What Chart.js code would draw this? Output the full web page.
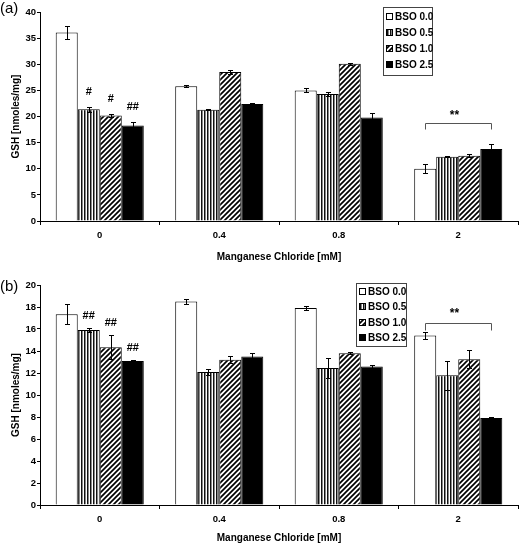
<!DOCTYPE html>
<html>
<head>
<meta charset="utf-8">
<script src="https://cdn.jsdelivr.net/npm/chart.js@4.4.1/dist/chart.umd.min.js"></script>
<style>
  body { margin: 0; background: #fff; }
  canvas { display: block; }
</style>
</head>
<body>
<canvas id="chartA" width="520" height="268"></canvas>
<canvas id="chartB" width="520" height="277"></canvas>
<script>
// Data.
const categories = ['0', '0.4', '0.8', '2'];
const seriesLabels = ['BSO 0.0', 'BSO 0.5', 'BSO 1.0', 'BSO 2.5'];

// Panel (a)
const aBso00 = [36.1, 25.8, 25.0, 10.0];
const aBso05 = [21.4, 21.3, 24.3, 12.3];
const aBso10 = [20.2, 28.5, 30.1, 12.5];
const aBso25 = [18.3, 22.4, 19.8, 13.8];
const aErr00 = [1.2, 0.15, 0.4, 0.9];
const aErr05 = [0.5, 0.1, 0.3, 0.1];
const aErr10 = [0.3, 0.4, 0.15, 0.3];
const aErr25 = [0.7, 0.2, 0.8, 1.0];
const aSig = ['', '#', '#', '##'];   // marks over the 0 mM group
const aBracketLevel = 18.7;           // '**' bracket over the 2 mM group

// Panel (b)
const bBso00 = [17.35, 18.5, 17.9, 15.4];
const bBso05 = [15.9, 12.1, 12.45, 11.8];
const bBso10 = [14.35, 13.2, 13.8, 13.25];
const bBso25 = [13.1, 13.5, 12.6, 7.9];
const bErr00 = [0.9, 0.2, 0.2, 0.3];
const bErr05 = [0.2, 0.3, 0.9, 1.3];
const bErr10 = [1.1, 0.3, 0.1, 0.8];
const bErr25 = [0.1, 0.35, 0.1, 0.1];
const bSig = ['', '##', '##', '##'];
const bBracketLevel = 16.55;

const FONT = '"Liberation Sans", Arial, sans-serif';
Chart.defaults.font.family = FONT;
Chart.defaults.color = '#000';

// Fill patterns
function vStripes() {
    const c = document.createElement('canvas');
    c.width = 3; c.height = 3;
    const g = c.getContext('2d');
    g.fillStyle = '#fff'; g.fillRect(0, 0, 3, 3);
    g.fillStyle = '#111'; g.fillRect(0, 0, 1, 3);
    g.fillStyle = '#888'; g.fillRect(1, 0, 1, 3);
    return g.createPattern(c, 'repeat');
}
function diagStripes() {
    const s = 5;
    const c = document.createElement('canvas');
    c.width = s; c.height = s;
    const g = c.getContext('2d');
    g.fillStyle = '#fff'; g.fillRect(0, 0, s, s);
    g.strokeStyle = '#000'; g.lineWidth = 1.7;
    g.beginPath();
    g.moveTo(-1, 1); g.lineTo(1, -1);
    g.moveTo(0, s); g.lineTo(s, 0);
    g.moveTo(s - 1, s + 1); g.lineTo(s + 1, s - 1);
    g.stroke();
    return g.createPattern(c, 'repeat');
}
const fills = ['#ffffff', vStripes(), diagStripes(), '#000000'];

// Error bars from the y scale
const errorBars = {
    id: 'errorBars',
    afterDatasetsDraw(chart) {
        const ctx = chart.ctx, y = chart.scales.y;
        ctx.save();
        ctx.strokeStyle = '#000';
        ctx.lineWidth = 1;
        chart.data.datasets.forEach((ds, i) => {
            chart.getDatasetMeta(i).data.forEach((bar, j) => {
                const v = ds.data[j], e = ds.errors[j];
                const top = Math.round(y.getPixelForValue(v + e)) + 0.5;
                const bot = Math.round(y.getPixelForValue(v - e)) + 0.5;
                const x = Math.round(bar.x) + 0.5;
                ctx.beginPath();
                ctx.moveTo(x, top); ctx.lineTo(x, bot);
                ctx.moveTo(x - 2.5, top); ctx.lineTo(x + 2.5, top);
                ctx.moveTo(x - 2.5, bot); ctx.lineTo(x + 2.5, bot);
                ctx.stroke();
            });
        });
        ctx.restore();
    }
};

// Significance marks, bracket and panel letter
const marks = {
    id: 'marks',
    afterDatasetsDraw(chart, args, o) {
        const ctx = chart.ctx, y = chart.scales.y;
        ctx.save();
        ctx.fillStyle = '#000';
        ctx.textAlign = 'center';
        ctx.textBaseline = 'middle';
        ctx.font = 'bold 11px ' + FONT;
        o.sig.forEach((txt, i) => {
            if (!txt) return;
            const ds = chart.data.datasets[i];
            const bar = chart.getDatasetMeta(i).data[0];
            const top = y.getPixelForValue(ds.data[0] + ds.errors[0]);
            ctx.fillText(txt, bar.x, top - o.gap);
        });

        const g = categories.length - 1;
        const x1 = Math.round(chart.getDatasetMeta(0).data[g].x) + 0.5;
        const x2 = Math.round(chart.getDatasetMeta(3).data[g].x) + 0.5;
        const by = Math.round(y.getPixelForValue(o.bracketLevel)) + 0.5;
        ctx.strokeStyle = '#555';
        ctx.lineWidth = 1;
        ctx.beginPath();
        ctx.moveTo(x1, by + o.leg); ctx.lineTo(x1, by);
        ctx.lineTo(x2, by); ctx.lineTo(x2, by + o.leg);
        ctx.stroke();
        ctx.font = 'bold 12px ' + FONT;
        ctx.fillText('**', (x1 + x2) / 2 - 4, by - o.starGap);

        ctx.textAlign = 'left';
        ctx.font = '15px ' + FONT;
        ctx.fillText(o.panel, 0, o.panelY);
        ctx.restore();
    }
};

// Boxed legend inside the plot
const boxLegend = {
    id: 'boxLegend',
    afterDraw(chart, args, o) {
        const ctx = chart.ctx;
        ctx.save();
        ctx.strokeStyle = '#444';
        ctx.lineWidth = 1;
        ctx.fillStyle = '#fff';
        ctx.fillRect(o.x, o.y, o.w, o.h);
        ctx.strokeRect(o.x + 0.5, o.y + 0.5, o.w, o.h);
        ctx.font = 'bold 10px ' + FONT;
        ctx.textBaseline = 'middle';
        ctx.textAlign = 'left';
        chart.data.datasets.forEach((ds, i) => {
            const cy = Math.round(o.y + o.first + i * o.row);
            ctx.fillStyle = ds.backgroundColor;
            ctx.fillRect(o.x + 3, cy - 4, 7, 7);
            ctx.strokeStyle = '#000';
            ctx.strokeRect(o.x + 3.5, cy - 3.5, 6, 6);
            ctx.fillStyle = '#000';
            ctx.fillText(ds.label, o.x + 12, cy);
        });
        ctx.restore();
    }
};

function makeChart(id, series, errs, cfg) {
    const datasets = series.map((d, i) => ({
        label: seriesLabels[i],
        data: d,
        errors: errs[i],
        backgroundColor: fills[i],
        borderColor: '#000',
        borderWidth: 1,
        categoryPercentage: 0.737,
        barPercentage: 1.0
    }));
    return new Chart(document.getElementById(id), {
        type: 'bar',
        data: { labels: categories, datasets: datasets },
        plugins: [errorBars, marks, boxLegend],
        options: {
            responsive: false,
            animation: false,
            layout: { padding: { top: cfg.top, right: 2, left: 0, bottom: 0 } },
            scales: {
                x: {
                    grid: { drawOnChartArea: false, drawTicks: true, tickLength: 4, color: '#000', offset: true },
                    border: { color: '#000' },
                    ticks: { padding: 5, font: { size: 9.5, weight: 'bold' }, color: '#000' },
                    title: {
                        display: true, text: 'Manganese Chloride [mM]',
                        font: { size: 10, weight: 'bold' },
                        padding: { top: 0, bottom: cfg.titlePad }
                    },
                    afterFit(s) { s.height = cfg.xHeight; }
                },
                y: {
                    min: 0, max: cfg.yMax,
                    grid: { drawOnChartArea: false, tickLength: 3, color: '#000' },
                    border: { color: '#000' },
                    ticks: { stepSize: cfg.yStep, padding: 1, font: { size: 9.5, weight: 'bold' }, color: '#000' },
                    title: {
                        display: true, text: 'GSH [nmoles/mg]',
                        font: { size: 10, weight: 'bold' },
                        padding: { top: 10, bottom: 0 }
                    },
                    afterFit(s) { s.width = 40; }
                }
            },
            plugins: {
                legend: { display: false },
                tooltip: { enabled: false },
                marks: cfg.marks,
                boxLegend: cfg.legend
            }
        }
    });
}

makeChart('chartA', [aBso00, aBso05, aBso10, aBso25], [aErr00, aErr05, aErr10, aErr25], {
    top: 12, xHeight: 47, titlePad: 5, yMax: 40, yStep: 5,
    marks: { sig: aSig, gap: 15, bracketLevel: aBracketLevel, leg: 6, starGap: 8, panel: '(a)', panelY: 9 },
    legend: { x: 383, y: 7, w: 49, h: 68, first: 10, row: 16 }
});
makeChart('chartB', [bBso00, bBso05, bBso10, bBso25], [bErr00, bErr05, bErr10, bErr25], {
    top: 17, xHeight: 40, titlePad: 1, yMax: 20, yStep: 2,
    marks: { sig: bSig, gap: 12, bracketLevel: bBracketLevel, leg: 7, starGap: 10, panel: '(b)', panelY: 19 },
    legend: { x: 356, y: 15, w: 50, h: 63, first: 8.5, row: 15.5 }
});
</script>
</body>
</html>
